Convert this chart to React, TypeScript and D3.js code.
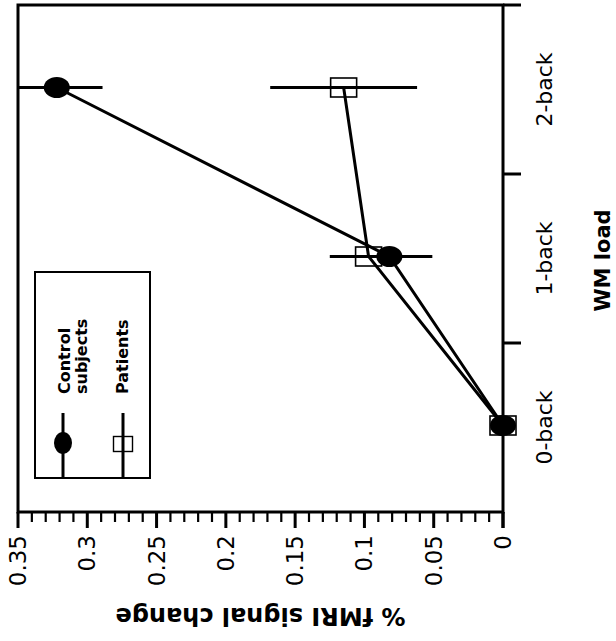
import React, { useRef, useEffect } from "react";
import * as d3 from "d3";

// WM load conditions
const loads = ["0-back", "1-back", "2-back"];

// % fMRI signal change
const controlMeans = [0, 0.082, 0.322];
const controlErrors = [0, 0.031, 0.033];
const patientMeans = [0, 0.097, 0.115];
const patientErrors = [0, 0.028, 0.053];

const valueTicks = [0, 0.05, 0.1, 0.15, 0.2, 0.25, 0.3, 0.35];

const App = () => {
  const ref = useRef<SVGSVGElement>(null);

  useEffect(() => {
    const width = 616;
    const height = 641;
    const font = "'DejaVu Sans', sans-serif";

    const svg = d3.select(ref.current);
    svg.selectAll("*").remove(); // Clear old content
    svg.attr("width", width).attr("height", height);

    // figure is turned on its side: values run right-to-left, loads bottom-to-top
    const x = d3.scaleLinear().domain([0, 0.35]).range([503, 18]);
    const y = d3.scaleBand().domain(loads).range([512, 5]);
    const mid = (c: string) => (y(c) as number) + y.bandwidth() / 2;

    const [x0, x1] = [x(0), x(0.35)];
    const [yb, yt] = y.range();

    // frame
    svg
      .append("rect")
      .attr("x", x1)
      .attr("y", yt)
      .attr("width", x0 - x1)
      .attr("height", yb - yt)
      .attr("fill", "none")
      .attr("stroke", "#000")
      .attr("stroke-width", 3);

    // value axis (bottom)
    const gx = svg.append("g");
    x.ticks(35).forEach((t) => {
      const major = Math.abs(t * 20 - Math.round(t * 20)) < 1e-6;
      gx.append("line")
        .attr("x1", x(t))
        .attr("x2", x(t))
        .attr("y1", yb)
        .attr("y2", yb + (major ? 16 : 10))
        .attr("stroke", "#000")
        .attr("stroke-width", major ? 3 : 2.2);
    });
    valueTicks.forEach((t) => {
      gx.append("text")
        .attr("transform", `translate(${x(t)},${yb + 23}) rotate(-90)`)
        .attr("text-anchor", "end")
        .attr("dominant-baseline", "central")
        .style("font-family", font)
        .style("font-size", "23px")
        .text(String(t));
    });

    svg
      .append("text")
      .attr("transform", `translate(${(x0 + x1) / 2},${yb + 96}) rotate(180)`)
      .attr("text-anchor", "middle")
      .style("font-family", font)
      .style("font-size", "24px")
      .style("font-weight", "bold")
      .text("% fMRI signal change");

    // load axis (right)
    const gy = svg.append("g");
    loads.forEach((c) => {
      gy.append("line")
        .attr("x1", x0)
        .attr("x2", x0 + 18)
        .attr("y1", y(c) as number)
        .attr("y2", y(c) as number)
        .attr("stroke", "#000")
        .attr("stroke-width", 3);
      gy.append("text")
        .attr("transform", `translate(${x0 + 41},${mid(c)}) rotate(-90)`)
        .attr("text-anchor", "middle")
        .attr("dominant-baseline", "central")
        .style("font-family", font)
        .style("font-size", "22px")
        .text(c);
    });
    gy.append("line")
      .attr("x1", x0)
      .attr("x2", x0)
      .attr("y1", yb)
      .attr("y2", yb + 16)
      .attr("stroke", "#000")
      .attr("stroke-width", 3);

    svg
      .append("text")
      .attr("transform", `translate(${x0 + 107},${(yb + yt) / 2 + 2}) rotate(-90)`)
      .attr("text-anchor", "middle")
      .style("font-family", font)
      .style("font-size", "21px")
      .style("font-weight", "bold")
      .text("WM load");

    const series = [
      { name: "patients", means: patientMeans, errs: patientErrors },
      { name: "control", means: controlMeans, errs: controlErrors },
    ];

    const clip = (v: number) => Math.max(0, Math.min(0.35, v));

    // error bars
    series.forEach((s) => {
      s.means.forEach((m, i) => {
        if (!s.errs[i]) return;
        svg
          .append("line")
          .attr("x1", x(clip(m - s.errs[i])))
          .attr("x2", x(clip(m + s.errs[i])))
          .attr("y1", mid(loads[i]) - 2)
          .attr("y2", mid(loads[i]) - 2)
          .attr("stroke", "#000")
          .attr("stroke-width", 3);
      });
    });

    // connecting lines
    const line = d3
      .line<number>()
      .x((d) => x(d))
      .y((d, i) => mid(loads[i]) - 2);
    series.forEach((s) => {
      svg
        .append("path")
        .attr("d", line(s.means))
        .attr("fill", "none")
        .attr("stroke", "#000")
        .attr("stroke-width", 3);
    });

    // markers
    patientMeans.forEach((m, i) => {
      svg
        .append("rect")
        .attr("x", x(m) - 13)
        .attr("y", mid(loads[i]) - 2 - 9.5)
        .attr("width", 26)
        .attr("height", 19)
        .attr("fill", "none")
        .attr("stroke", "#000")
        .attr("stroke-width", 1.6);
    });
    controlMeans.forEach((m, i) => {
      svg
        .append("ellipse")
        .attr("cx", x(m))
        .attr("cy", mid(loads[i]) - 2)
        .attr("rx", 13)
        .attr("ry", 10.5)
        .attr("fill", "#000");
    });

    // legend
    const lg = svg.append("g");
    lg.append("rect")
      .attr("x", 35)
      .attr("y", 272)
      .attr("width", 115)
      .attr("height", 206)
      .attr("fill", "#fff")
      .attr("stroke", "#000")
      .attr("stroke-width", 2);
    [63, 123].forEach((lx) => {
      lg.append("line")
        .attr("x1", lx)
        .attr("x2", lx)
        .attr("y1", 413)
        .attr("y2", 478)
        .attr("stroke", "#000")
        .attr("stroke-width", 3);
    });
    lg.append("ellipse")
      .attr("cx", 63)
      .attr("cy", 443)
      .attr("rx", 9)
      .attr("ry", 11)
      .attr("fill", "#000");
    lg.append("rect")
      .attr("x", 113.5)
      .attr("y", 436.5)
      .attr("width", 19)
      .attr("height", 15)
      .attr("fill", "none")
      .attr("stroke", "#000")
      .attr("stroke-width", 1.4);
    [
      { t: "Control", bx: 70 },
      { t: "subjects", bx: 87 },
      { t: "Patients", bx: 128 },
    ].forEach((d) => {
      lg.append("text")
        .attr("transform", `translate(${d.bx},394) rotate(-90)`)
        .style("font-family", font)
        .style("font-size", "16px")
        .style("font-weight", "bold")
        .text(d.t);
    });
  }, []);

  return (
    <div style={{ position: "absolute", left: 0, top: 0 }}>
      <svg ref={ref} style={{ display: "block" }}></svg>
    </div>
  );
};

export default App;
